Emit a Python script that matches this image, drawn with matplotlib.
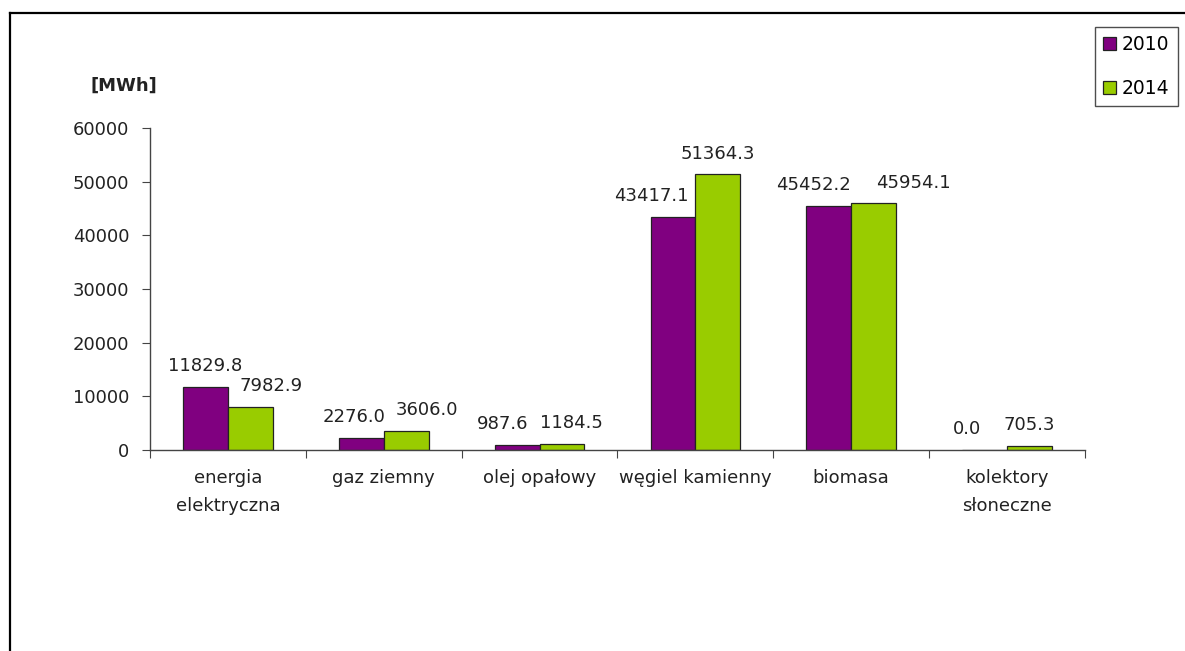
import numpy as np
import matplotlib.pyplot as plt
from matplotlib.lines import Line2D

# dane
kategorie = ["energia\nelektryczna", "gaz ziemny", "olej opałowy",
             "węgiel kamienny", "biomasa", "kolektory\nsłoneczne"]
lata = ["2010", "2014"]
v2010 = [11829.8, 2276.0, 987.6, 43417.1, 45452.2, 0.0]
v2014 = [7982.9, 3606.0, 1184.5, 51364.3, 45954.1, 705.3]
y_ticks = [0, 10000, 20000, 30000, 40000, 50000, 60000]

kolory = ["#800080", "#99CC00"]

plt.rcParams['font.family'] = ['DejaVu Sans']
fs = 13

fig = plt.figure(figsize=(11.85, 6.51), dpi=100)
ax = fig.add_axes([150 / 1185, 1 - 450 / 651, 935 / 1185, 322 / 651])

x = np.arange(len(kategorie))
w = 0.288

b1 = ax.bar(x - w / 2, v2010, w, color=kolory[0], edgecolor="#222222",
            linewidth=0.9, label=lata[0])
b2 = ax.bar(x + w / 2, v2014, w, color=kolory[1], edgecolor="#222222",
            linewidth=0.9, label=lata[1])

# etykiety wartosci (przesuniecia w px jak na oryginale)
dx1 = [0, -7, -15, -22, -15, -18]
dx2 = [21, 21, 9, 0, 40, 0]
for bars, vals, dxs in [(b1, v2010, dx1), (b2, v2014, dx2)]:
    for b, v, d in zip(bars, vals, dxs):
        ax.annotate(f"{v:.1f}", (b.get_x() + b.get_width() / 2, v),
                    xytext=(d * 0.72, 15), textcoords="offset points",
                    ha="center", va="center", fontsize=fs, color="#222222")

ax.set_xlim(-0.5, len(kategorie) - 0.5)
ax.set_ylim(0, 60000)
ax.set_yticks(y_ticks)
ax.set_yticklabels([str(t) for t in y_ticks])

ax.set_xticks(np.arange(len(kategorie) + 1) - 0.5)
ax.set_xticklabels([])
ax.set_xticks(x, minor=True)
ax.set_xticklabels(kategorie, minor=True, fontsize=fs, color="#222222",
                   linespacing=1.7, va="top")
ax.tick_params(axis="x", which="minor", length=0, pad=14)
ax.tick_params(axis="x", which="major", length=6, color="#444444")
ax.tick_params(axis="y", length=6, color="#444444", labelsize=fs,
               labelcolor="#222222", pad=9)

for s in ["top", "right"]:
    ax.spines[s].set_visible(False)
for s in ["left", "bottom"]:
    ax.spines[s].set_color("#444444")
    ax.spines[s].set_linewidth(1.0)

fig.text(90 / 1185, 1 - 86 / 651, "[MWh]", fontsize=fs, fontweight="bold",
         va="center", ha="left", color="#222222")

leg = fig.legend(handles=[b1, b2], loc="upper right",
                 bbox_to_anchor=(1178 / 1185, 1 - 27 / 651),
                 fontsize=13.5, frameon=True, fancybox=False,
                 handlelength=0.7, handleheight=0.7, handletextpad=0.3,
                 labelspacing=1.3, borderpad=0.45, borderaxespad=0)
leg.get_frame().set_edgecolor("#222222")
leg.get_frame().set_linewidth(1.0)

# ramka wykresu (lewa i gorna krawedz)
fig.add_artist(Line2D([10 / 1185, 10 / 1185], [0, 1 - 13 / 651],
                      color="black", linewidth=1.6))
fig.add_artist(Line2D([10 / 1185, 1], [1 - 13 / 651, 1 - 13 / 651],
                      color="black", linewidth=1.6))

fig.savefig("out.png", dpi=100)
